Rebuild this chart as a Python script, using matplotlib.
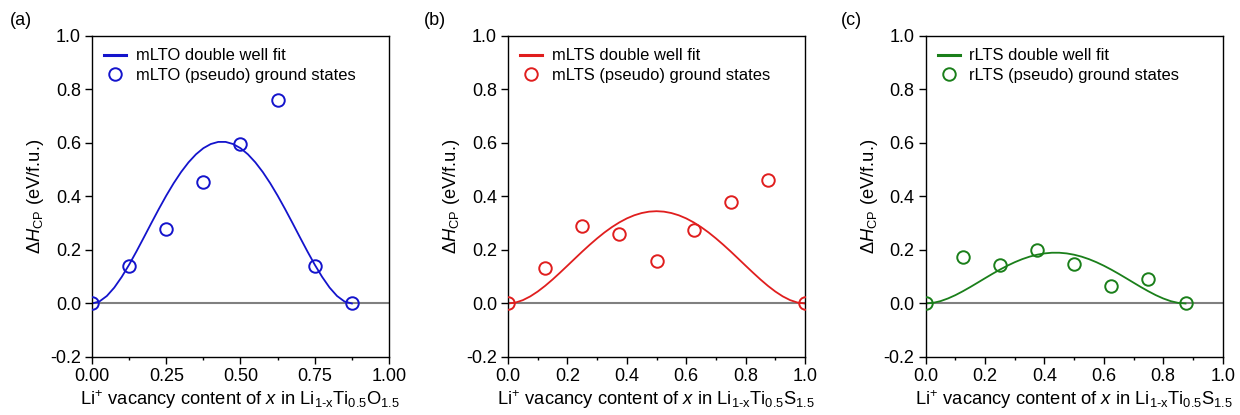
import numpy as np
import matplotlib
matplotlib.use('Agg')
import matplotlib.pyplot as plt
import matplotlib.ticker as ticker

plt.rcParams['font.family'] = ['Liberation Sans', 'DejaVu Sans']
plt.rcParams['mathtext.fontset'] = 'custom'
plt.rcParams['mathtext.rm'] = 'Liberation Sans'
plt.rcParams['mathtext.it'] = 'Liberation Sans:italic'
plt.rcParams['axes.unicode_minus'] = False

# (pseudo) ground states
x_pts = [0.0, 0.125, 0.25, 0.375, 0.5, 0.625, 0.75, 0.875]
x_pts_b = [0.0, 0.125, 0.25, 0.375, 0.5, 0.625, 0.75, 0.875, 1.0]
mlto_pts = [0.0, 0.14, 0.28, 0.455, 0.597, 0.759, 0.14, 0.0]
mlts_pts = [0.0, 0.131, 0.291, 0.26, 0.157, 0.275, 0.379, 0.463, 0.0]
rlts_pts = [0.0, 0.174, 0.143, 0.201, 0.147, 0.067, 0.091, 0.0]

# double well fit curves
x_fit_ac = [0.875 * k / 35 for k in range(36)]
mlto_fit = [0.0, 0.0075, 0.0281, 0.0594, 0.0992, 0.1451, 0.1953, 0.2478, 0.3010,
            0.3532, 0.4032, 0.4496, 0.4914, 0.5276, 0.5576, 0.5806, 0.5961, 0.6040,
            0.6040, 0.5961, 0.5806, 0.5576, 0.5276, 0.4914, 0.4496, 0.4032, 0.3532,
            0.3010, 0.2478, 0.1953, 0.1451, 0.0992, 0.0594, 0.0281, 0.0075, 0.0]
rlts_fit = [0.0, 0.0023, 0.0088, 0.0187, 0.0311, 0.0456, 0.0613, 0.0778, 0.0945,
            0.1109, 0.1266, 0.1412, 0.1543, 0.1657, 0.1751, 0.1823, 0.1872, 0.1897,
            0.1897, 0.1872, 0.1823, 0.1751, 0.1657, 0.1543, 0.1412, 0.1266, 0.1109,
            0.0945, 0.0778, 0.0613, 0.0456, 0.0311, 0.0187, 0.0088, 0.0023, 0.0]
x_fit_b = [k / 40 for k in range(41)]
mlts_fit = [0.0, 0.0033, 0.0125, 0.0266, 0.0447, 0.0660, 0.0897, 0.1151, 0.1413,
            0.1678, 0.1941, 0.2194, 0.2434, 0.2657, 0.2857, 0.3032, 0.3180, 0.3297,
            0.3381, 0.3433, 0.3450, 0.3433, 0.3381, 0.3297, 0.3180, 0.3032, 0.2857,
            0.2657, 0.2434, 0.2194, 0.1941, 0.1678, 0.1413, 0.1151, 0.0897, 0.0660,
            0.0447, 0.0266, 0.0125, 0.0033, 0.0]

panels = [
    ('(a)', 'mLTO', '#1414cc', x_fit_ac, mlto_fit, x_pts, mlto_pts, 'O', 0.25),
    ('(b)', 'mLTS', '#e01e1e', x_fit_b, mlts_fit, x_pts_b, mlts_pts, 'S', 0.2),
    ('(c)', 'rLTS', '#1a7f1a', x_fit_ac, rlts_fit, x_pts, rlts_pts, 'S', 0.2),
]
lefts = [0.0742, 0.4097, 0.7465]
tags_x = [0.008, 0.342, 0.678]

fig = plt.figure(figsize=(12.4, 4.15), dpi=100)

for i, (tag, name, col, xf, yf, xp, yp, anion, step) in enumerate(panels):
    ax = fig.add_axes([lefts[i], 0.1398, 0.2395, 0.7735])
    ax.axhline(0, color='#808080', lw=1.5, zorder=1)
    ax.plot(xf, yf, color=col, lw=1.3, label=name + ' double well fit', zorder=2)
    ax.plot(xp, yp, 'o', mfc='none', mec=col, mew=1.4, ms=9,
            label=name + ' (pseudo) ground states', zorder=3)
    ax.set_xlim(0, 1)
    ax.set_ylim(-0.2, 1.0)
    ax.xaxis.set_major_locator(ticker.MultipleLocator(step))
    ax.xaxis.set_minor_locator(ticker.MultipleLocator(step / 2))
    ax.yaxis.set_major_locator(ticker.MultipleLocator(0.2))
    if step == 0.25:
        ax.xaxis.set_major_formatter(ticker.FormatStrFormatter('%.2f'))
    else:
        ax.xaxis.set_major_formatter(ticker.FormatStrFormatter('%.1f'))
    ax.yaxis.set_major_formatter(ticker.FormatStrFormatter('%.1f'))
    ax.tick_params(which='major', direction='out', length=5, width=1, labelsize=13, pad=3)
    ax.tick_params(which='minor', direction='out', length=2.5, width=1)
    for s in ax.spines.values():
        s.set_linewidth(1.0)
    ax.set_ylabel(r'$\mathit{\Delta H}_{\rm CP}$ (eV/f.u.)', fontsize=13.2, labelpad=3)
    ax.set_xlabel(r'Li$^{+}$ vacancy content of $x$ in Li$_{\rm 1\text{-}x}$Ti$_{\rm 0.5}$'
                  + anion + r'$_{\rm 1.5}$', fontsize=13.2, labelpad=2)
    leg = ax.legend(loc='upper left', frameon=False, fontsize=11.9, handlelength=1.3,
                    handletextpad=0.6, labelspacing=0.25, borderaxespad=0.35)
    leg.get_lines()[0].set_linewidth(2.2)
    fig.text(tags_x[i], 0.97, tag, fontsize=13, va='top')

fig.savefig('out.png', dpi=100)
